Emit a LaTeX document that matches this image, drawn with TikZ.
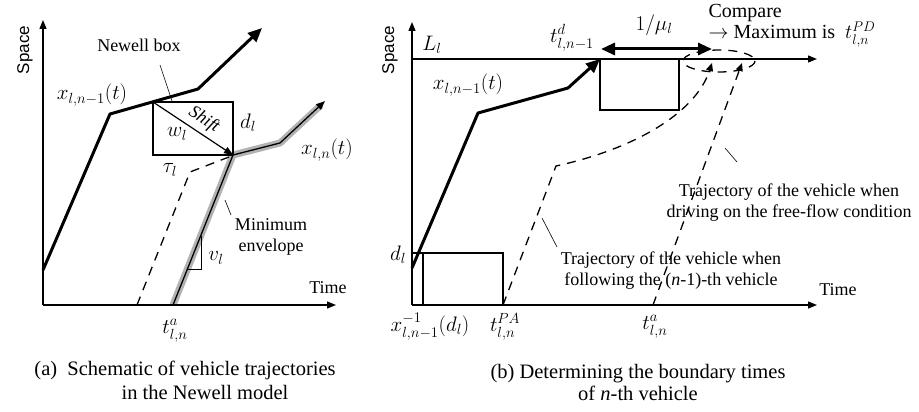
\RequirePackage{fix-cm}
\documentclass[tikz,border=0pt]{standalone}
\usepackage{amsmath}
\usepackage{fontspec}
\setmainfont{Liberation Serif}
\setsansfont{Liberation Sans}
\usepackage{tikz}
\usetikzlibrary{
  arrows.meta,
  calc,
  positioning
}
\definecolor{envGray}{RGB}{178,178,178}

\begin{document}
\begin{tikzpicture}[
    x=1pt, y=-1pt,
    font=\fontsize{18}{21}\selectfont,
    axis/.style={line width=1.3pt, -{Triangle[length=9pt,width=7pt]}},
    traj/.style={line width=3pt, line join=round, -{Triangle[length=14pt,width=12pt]}},
    dashtraj/.style={line width=1.3pt, dash pattern=on 9pt off 7pt},
    envelope/.style={line width=7pt, draw=envGray, line join=round},
    thinbox/.style={draw, line width=1.3pt},
    leader/.style={line width=0.6pt},
    mlbl/.style={font=\fontsize{21}{24}\selectfont},
    caption/.style={font=\fontsize{20.5}{22}\selectfont},
    spacelbl/.style={rotate=90, font=\sffamily\fontsize{17}{20}\selectfont}
]
\useasboundingbox (0,0) rectangle (919,412);

% (a) trajectories in the Newell model
    \coordinate (aO) at (43,305);
    \coordinate (nbA) at (153,102);
    \coordinate (nbB) at (233,155);

    \draw[envelope] (173,305) -- (nbB) -- (280,143) -- (321,105);
    \draw[line width=1.3pt, line join=round, -{Triangle[length=9pt,width=7pt]}] (173,305) -- (nbB) -- (280,143) -- (325,101);

    \draw[axis] (aO) -- (43,20);
    \draw[axis] (aO) -- (336,305);
    \node[spacelbl] (aSpace) at (25,50) {Space};
    \node (aTime) at (328,288) {Time};

    \draw[traj] (43,270) -- (110,114) -- (198,89) -- (262,28);
    \node[mlbl] (aPrev) at (92,95) {$x_{l,n-1}(t)$};

    \draw[thinbox] (nbA) rectangle (nbB);
    \draw[line width=1.2pt, -{Triangle[length=9pt,width=7pt]}] (nbA) -- (nbB);
    \node[rotate=-33, inner sep=0pt] (shift) at (204,120) {\itshape Shift};
    \node[mlbl] (wl) at (177,134) {$w_l$};
    \node[mlbl] (dlA) at (248,123) {$d_l$};
    \node[mlbl] (tau) at (170,170) {$\tau_l$};

    \node (newell) at (139,45) {Newell box};
    \draw[leader] (160,65) -- (172,101);

    \draw[dashtraj] (137,305) -- (190,172) -- (229,157);

    \draw[line width=1pt] (187.6,269) -- (201,269) -- (201,236);
    \node[mlbl] (vl) at (216,258) {$v_l$};

    \node[mlbl] (aCur) at (327,150) {$x_{l,n}(t)$};
    \node[align=center] (minEnv) at (271,237) {Minimum\\envelope};
    \draw[leader] (225,200) -- (231,215);

    \node[mlbl] (taA) at (175,331) {$t^{a}_{l,n}$};

    \node[caption] (capA1) at (185,370) {(a)\enspace Schematic of vehicle trajectories};
    \node[caption] (capA2) at (205,392) {in the Newell model};

% (b) boundary times
    \coordinate (bO) at (412,305);
    \draw[axis] (bO) -- (412,22);
    \draw[axis] (bO) -- (817,305);
    \draw[axis] (412,59) -- (817,59);
    \node[spacelbl] (bSpace) at (390,50) {Space};
    \node (bTime) at (838,290) {Time};
    \node[mlbl] (Ll) at (432,45) {$L_l$};

    \draw[traj] (412,268) -- (478,113) -- (568,88) -- (600,59);
    \node[mlbl] (bPrev) at (468,85) {$x_{l,n-1}(t)$};

    \draw[thinbox] (600,59) rectangle (679,110);
    \draw[line width=3pt, {Triangle[length=14pt,width=12pt]}-{Triangle[length=14pt,width=12pt]}] (601,49) -- (712,49);
    \node[mlbl] (tdep) at (572,38) {$t^{d}_{l,n-1}$};
    \node[mlbl] (mu) at (654,25) {$1/\mu_l$};
    \node[font=\fontsize{20}{22}\selectfont, anchor=west] (cmp) at (705,13) {Compare};
    \node[font=\fontsize{20}{22}\selectfont, anchor=west, right=0pt of cmp.south west, yshift=-9pt, anchor=west] (cmpMax) {$\rightarrow$ Maximum is\ \ $t^{PD}_{l,n}$};

    \draw[thinbox] (423,253) rectangle (503,305);
    \draw[line width=1.3pt] (412,253) -- (423,253);
    \node[mlbl] (dlB) at (398,255) {$d_l$};
    \node[mlbl] (xinv) at (430,327) {$x^{-1}_{l,n-1}(d_l)$};
    \node[mlbl] (tPA) at (505,327) {$t^{PA}_{l,n}$};
    \node[mlbl] (taB) at (655,327) {$t^{a}_{l,n}$};

    \draw[dashtraj, -{Triangle[length=8pt,width=7pt]}] (503,305) -- (556,166) .. controls (630,150) and (695,115) .. (712,63);
    \draw[dashtraj, -{Triangle[length=8pt,width=7pt]}] (653,305) -- (742,63);
    \draw[dashtraj] (719,61) ellipse [x radius=36, y radius=11];

    \node[align=center] (follow) at (671,271) {Trajectory of the vehicle when\\following the (\textit{n}-1)-th vehicle};
    \draw[leader] (542,218) -- (557,247);
    \node[align=center] (free) at (789,203) {Trajectory of the vehicle when\\driving on the free-flow condition};
    \draw[leader] (725,148) -- (737,162);

    \node[caption, align=center] (capB) at (638,382) {(b) Determining the boundary times\\of \textit{n}-th vehicle};

\end{tikzpicture}
\end{document}
